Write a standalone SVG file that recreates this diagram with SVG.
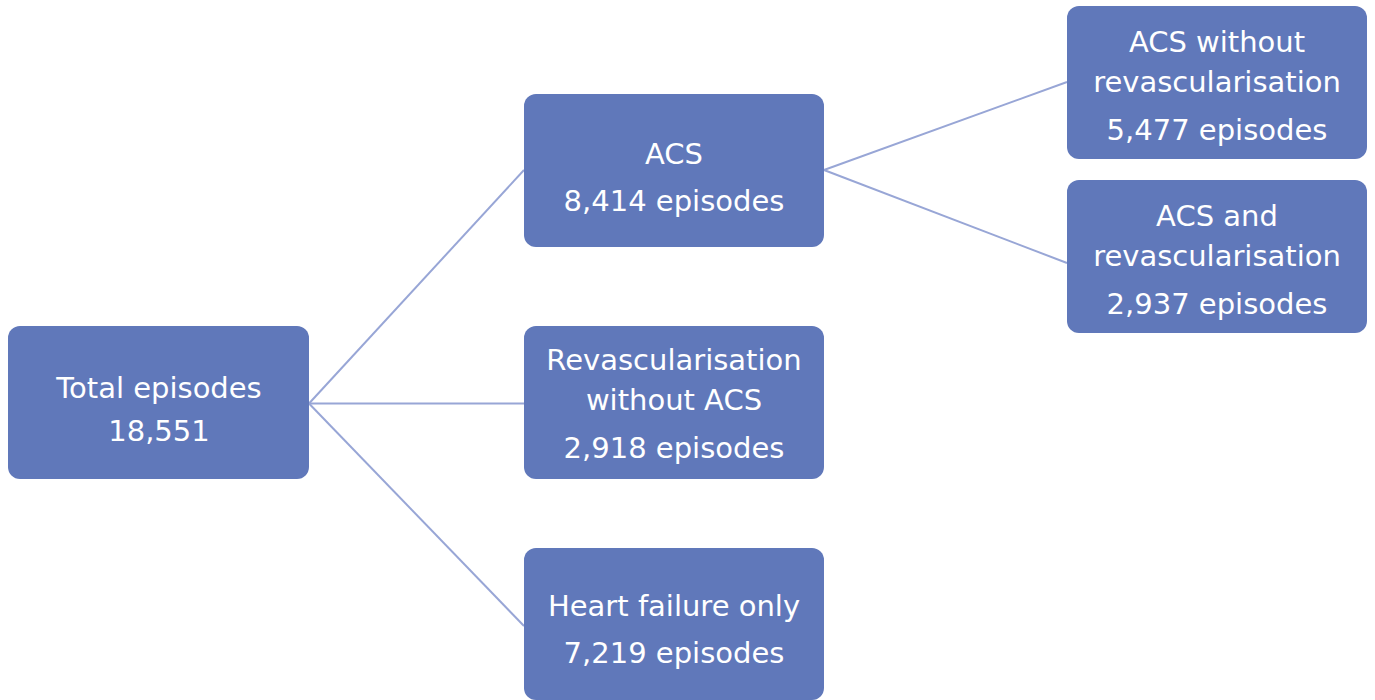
<svg xmlns="http://www.w3.org/2000/svg" width="1375" height="700" viewBox="0 0 1375 700">
<style>
.box{fill:#6078BA;}
.t{fill:#FFFFFF;font-family:"DejaVu Sans","Liberation Sans",Arial,sans-serif;font-size:29px;text-anchor:middle;}
.c{stroke:#98A6D6;stroke-width:2;fill:none;}
</style>
<rect width="1375" height="700" fill="#FFFFFF"/>
<g id="connectors">
<line class="c" x1="309" y1="403.5" x2="524" y2="170"/>
<line class="c" x1="309" y1="403.5" x2="524" y2="403.5"/>
<line class="c" x1="309" y1="403.5" x2="524" y2="626"/>
<line class="c" x1="824" y1="170" x2="1067" y2="82"/>
<line class="c" x1="824" y1="170" x2="1067" y2="263"/>
</g>
<g id="total">
<rect class="box" x="8" y="326" width="301" height="153" rx="12"/>
<text class="t" x="159" y="398">Total episodes</text>
<text class="t" x="159" y="441">18,551</text>
</g>
<g id="acs">
<rect class="box" x="524" y="94" width="300" height="153" rx="12"/>
<text class="t" x="674" y="164">ACS</text>
<text class="t" x="674" y="211">8,414 episodes</text>
</g>
<g id="revasc">
<rect class="box" x="524" y="326" width="300" height="153" rx="12"/>
<text class="t" x="674" y="370">Revascularisation</text>
<text class="t" x="674" y="410">without ACS</text>
<text class="t" x="674" y="458">2,918 episodes</text>
</g>
<g id="hf">
<rect class="box" x="524" y="548" width="300" height="152" rx="12"/>
<text class="t" x="674" y="616">Heart failure only</text>
<text class="t" x="674" y="663">7,219 episodes</text>
</g>
<g id="acs-norevasc">
<rect class="box" x="1067" y="6" width="300" height="153" rx="12"/>
<text class="t" x="1217" y="52">ACS without</text>
<text class="t" x="1217" y="92">revascularisation</text>
<text class="t" x="1217" y="140">5,477 episodes</text>
</g>
<g id="acs-revasc">
<rect class="box" x="1067" y="180" width="300" height="153" rx="12"/>
<text class="t" x="1217" y="226">ACS and</text>
<text class="t" x="1217" y="266">revascularisation</text>
<text class="t" x="1217" y="314">2,937 episodes</text>
</g>
</svg>
